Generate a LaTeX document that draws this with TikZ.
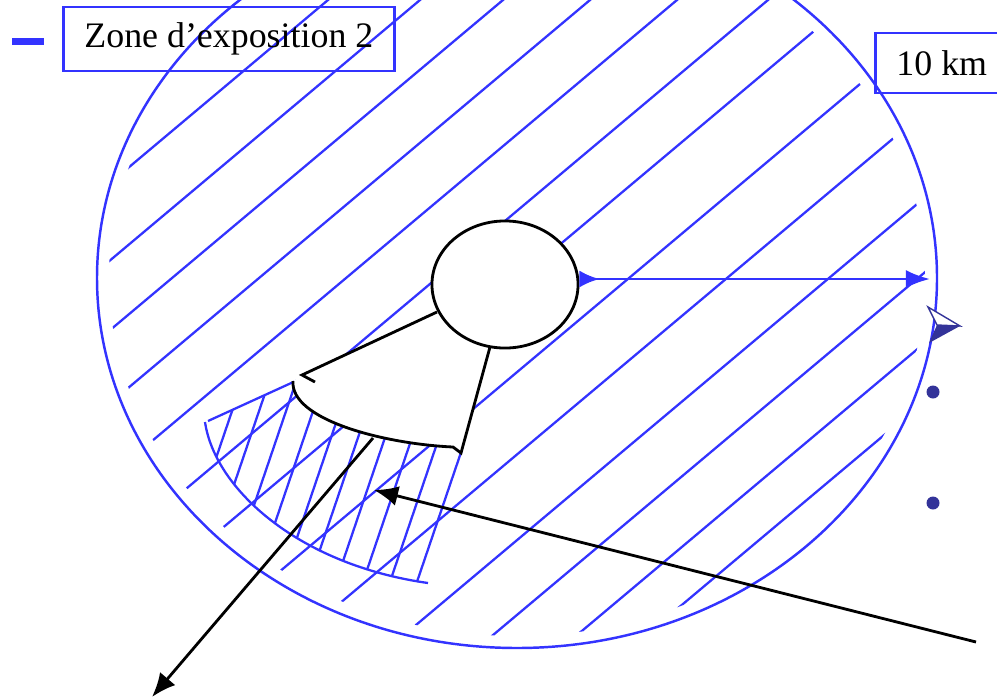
\documentclass[tikz,border=0pt]{standalone}
\usepackage{fontspec}
\setmainfont{Liberation Serif}
\usetikzlibrary{arrows.meta,shapes.geometric}
\definecolor{zoneblue}{RGB}{51,51,255}
\definecolor{bulletblue}{RGB}{51,51,153}

\begin{document}
\begin{tikzpicture}[x=0.01cm, y=-0.01cm,
    hatch/.style={draw=zoneblue, line width=0.65pt},
    tag/.style={draw=zoneblue, line width=0.8pt, anchor=west, inner xsep=0.21cm, font=\fontsize{10.2}{12}\selectfont},
    src/.style={draw, ellipse, fill=white, line width=0.8pt, minimum width=1.46cm, minimum height=1.27cm},
    outline/.style={line width=0.8pt},
    bluearr/.style={draw=zoneblue, line width=0.8pt, {Latex[reversed,length=0.2cm,width=0.17cm]}-{Latex[length=0.24cm,width=0.18cm]}},
    blackarr/.style={line width=0.8pt, -{Latex[length=0.24cm,width=0.2cm]}}
]
\useasboundingbox (0,0) rectangle (997,697);
\clip (0,0) rectangle (997,697);

% zone 10 km
\begin{scope}
  \clip (517,278) ellipse [x radius=408, y radius=358];
  \foreach \xo in {237,328,420,503,590,677,768,851,960,1058,1160,1249,1333,1402}
    \draw[hatch] ({\xo-697/0.84},697) -- ({\xo+100},-84);
\end{scope}
\draw[zoneblue, line width=0.7pt] (517,278) ellipse [x radius=420, y radius=370];

% band
\begin{scope}
  \clip (208,421) -- (298,380) .. controls (290,420) and (385,444) .. (453,447)
        -- (466,452) -- (434,590) -- (428,583) .. controls (300,565) and (215,490) .. (205,422) -- cycle;
  \foreach \k in {0,...,9}
    \draw[hatch] ({249.4+27*\k},360) -- ({161+27*\k},620);
\end{scope}
\draw[hatch] (208,421) -- (300,379);
\draw[hatch] (205,422) .. controls (215,490) and (300,565) .. (428,583);

% fan
\fill[white] (437,312) -- (302,375) -- (293,381) .. controls (290,420) and (385,444) .. (453,447)
      -- (461,453) -- (490,347) -- cycle;
\draw[outline] (437,312) -- (302,375) -- (315,382);
\draw[outline] (293,381) .. controls (290,420) and (385,444) .. (453,447) -- (461,453) -- (490,347);

\node[src] (src) at (505,284.5) {};

\node[tag, minimum height=0.64cm] (zonebox) at (62,39) {Zone d’exposition 2};
\node[tag, minimum height=0.60cm] (kmbox) at (874,63) {10 km};
\draw[zoneblue, line width=2pt] (12,41.5) -- (44,41.5);

\coordinate (rim) at (930,279);
\draw[bluearr] (src.east |- rim) -- (rim);

\coordinate (arcpt) at (373,438);
\coordinate (downleft) at (152,697);
\coordinate (farright) at (976,642);
\coordinate (bandpt) at (374,490);
\draw[blackarr] (arcpt) -- (downleft);
\draw[blackarr] (farright) -- (bandpt);

% bullets
\filldraw[draw=bulletblue, fill=white, line width=0.4pt] (928,307) -- (960,326) -- (937,325) -- cycle;
\fill[bulletblue] (937,325) -- (960,326) -- (929,343) -- cycle;
\fill[bulletblue] (933,392) circle [radius=6.5];
\fill[bulletblue] (933,503) circle [radius=6.5];
\end{tikzpicture}
\end{document}
